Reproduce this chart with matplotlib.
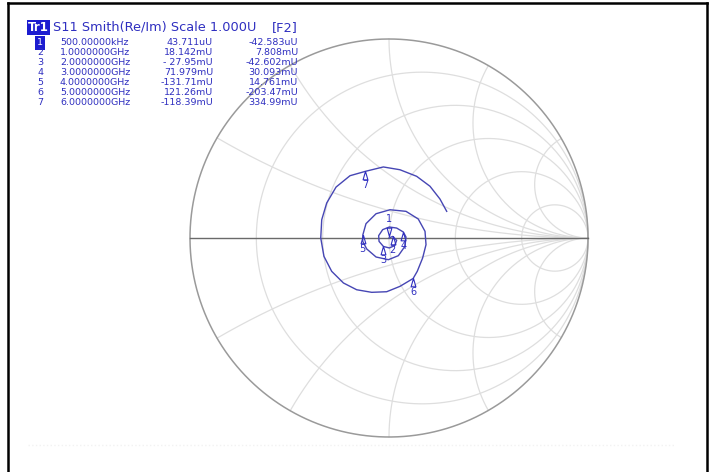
import numpy as np
import matplotlib.pyplot as plt
from matplotlib.lines import Line2D

# marker table as shown on the analyzer screen
marker_ids = ['1', '2', '3', '4', '5', '6', '7']
marker_freqs = ['500.00000kHz', '1.0000000GHz', '2.0000000GHz', '3.0000000GHz',
                '4.0000000GHz', '5.0000000GHz', '6.0000000GHz']
marker_re_txt = ['43.711uU', '18.142mU', '- 27.95mU', '71.979mU',
                 '-131.71mU', '121.26mU', '-118.39mU']
marker_im_txt = ['-42.583uU', '7.808mU', '-42.602mU', '30.093mU',
                 '14.761mU', '-203.47mU', '334.99mU']
marker_re = [43.711e-6, 18.142e-3, -27.95e-3, 71.979e-3, -131.71e-3, 121.26e-3, -118.39e-3]
marker_im = [-42.583e-6, 7.808e-3, -42.602e-3, 30.093e-3, 14.761e-3, -203.47e-3, 334.99e-3]

trace_re = [0.0000437, 0.018142, 0.0385, 0.0285, 0.0017, -0.02795, -0.050, -0.052,
            -0.0318, 0.0017, 0.0385, 0.071979, 0.0854, 0.080, 0.047, -0.003, -0.065,
            -0.112, -0.132, -0.13171, -0.1156, -0.065, 0.005, 0.0854, 0.147, 0.181,
            0.186, 0.169, 0.142, 0.12126, 0.055, -0.0117, -0.087, -0.1625, -0.229,
            -0.288, -0.327, -0.343, -0.338, -0.313, -0.266, -0.196, -0.11839, -0.0285,
            0.055, 0.139, 0.206, 0.256, 0.290]
trace_im = [-0.0000426, 0.007808, -0.0117, -0.0385, -0.050, -0.042602, -0.017, 0.0117,
            0.0419, 0.0553, 0.050, 0.030093, 0.005, -0.042, -0.0888, -0.109, -0.0955,
            -0.055, -0.0168, 0.014761, 0.072, 0.122, 0.142, 0.134, 0.0955, 0.0335,
            -0.0335, -0.1005, -0.1675, -0.20347, -0.243, -0.270, -0.273, -0.260, -0.226,
            -0.1675, -0.092, 0.0, 0.092, 0.176, 0.256, 0.313, 0.33499, 0.357, 0.343,
            0.310, 0.260, 0.196, 0.134]

# smith grid
r_circles = [0.2, 0.5, 1, 2, 5]
x_arcs = [0.27, 0.58, 1.0, 1.73, 3.73]

W, H = 715, 472
cx, cy, R = 389, 238, 199   # chart centre / radius in pixels

blue = '#2f2fc0'
trace_col = '#4646b4'

fig = plt.figure(figsize=(W / 100, H / 100), dpi=100)
ax = fig.add_axes([0, 0, 1, 1])
ax.set_xlim(-cx / R, (W - cx) / R)
ax.set_ylim(-(H - cy) / R, cy / R)
ax.axis('off')

t = np.linspace(0, 2 * np.pi, 400)
for r in r_circles:
    c = r / (1 + r)
    rad = 1 / (1 + r)
    ax.plot(c + rad * np.cos(t), rad * np.sin(t), color='#dedede', lw=0.9, zorder=1)

rr = np.concatenate([[0], np.logspace(-3, 3, 600)])
for x in x_arcs:
    for s in (1, -1):
        g = (rr + 1j * s * x - 1) / (rr + 1j * s * x + 1)
        ax.plot(g.real, g.imag, color='#dedede', lw=0.9, zorder=1)

ax.plot(np.cos(t), np.sin(t), color='#9a9a9a', lw=1.1, zorder=2)
ax.plot([-1, 1], [0, 0], color='#6a6a6a', lw=1.0, zorder=2)

# faint leftover line near the bottom
ax.plot([(28 - cx) / R, (674 - cx) / R], [(cy - 445) / R] * 2,
        color='#f2f2f2', lw=1, ls=':', zorder=0)

ax.plot(trace_re, trace_im, color=trace_col, lw=1.0, zorder=3)

# markers: active one above the point, others below
up_tri = [(0, 0), (-2.6, -9), (2.6, -9), (0, 0)]
down_tri = [(0, 0), (-2.6, 9), (2.6, 9), (0, 0)]
for i, mid in enumerate(marker_ids):
    if i == 0:
        ax.plot(marker_re[i], marker_im[i] + 2 / R, marker=down_tri, ms=12, mfc='none',
                mec=blue, mew=0.8, zorder=4)
        ax.annotate(mid, (marker_re[i], marker_im[i]), xytext=(0, 14),
                    textcoords='offset points', ha='center', va='center',
                    color=blue, fontsize=7, zorder=5)
    else:
        ax.plot(marker_re[i], marker_im[i], marker=up_tri, ms=12, mfc='none',
                mec=blue, mew=0.8, zorder=4)
        ax.annotate(mid, (marker_re[i], marker_im[i]), xytext=(0, -10),
                    textcoords='offset points', ha='center', va='center',
                    color=blue, fontsize=7, zorder=5)


def px(x, y):
    return x / W, 1 - y / H


# header line
fig.text(*px(28, 27.5), 'Tr1', color='white', fontsize=8.5, fontweight='bold',
         ha='left', va='center',
         bbox=dict(boxstyle='square,pad=0.12', fc='#1c1cd0', ec='none'))
fig.text(*px(53, 27.5), 'S11 Smith(Re/Im) Scale 1.000U', color=blue, fontsize=9.3,
         ha='left', va='center')
fig.text(*px(298, 27.5), '[F2]', color=blue, fontsize=9.3, ha='right', va='center')

# marker table
for i in range(len(marker_ids)):
    y = 42.7 + 10 * i
    if i == 0:
        fig.text(*px(40, y), marker_ids[i], color='white', fontsize=6.8, ha='center',
                 va='center', bbox=dict(boxstyle='square,pad=0.25', fc='#1c1cd0', ec='none'))
    else:
        fig.text(*px(40, y), marker_ids[i], color=blue, fontsize=6.8, ha='center', va='center')
    fig.text(*px(60, y), marker_freqs[i], color=blue, fontsize=6.8, ha='left', va='center')
    fig.text(*px(213, y), marker_re_txt[i], color=blue, fontsize=6.8, ha='right', va='center')
    fig.text(*px(298, y), marker_im_txt[i], color=blue, fontsize=6.8, ha='right', va='center')

# screen frame
fig.add_artist(Line2D([8 / W, 707 / W], [1 - 3 / H, 1 - 3 / H], color='black', lw=1.8))
fig.add_artist(Line2D([8 / W, 8 / W], [0, 1 - 3 / H], color='black', lw=1.8))
fig.add_artist(Line2D([707 / W, 707 / W], [0, 1 - 3 / H], color='black', lw=1.8))

fig.savefig('out.png', dpi=100)
